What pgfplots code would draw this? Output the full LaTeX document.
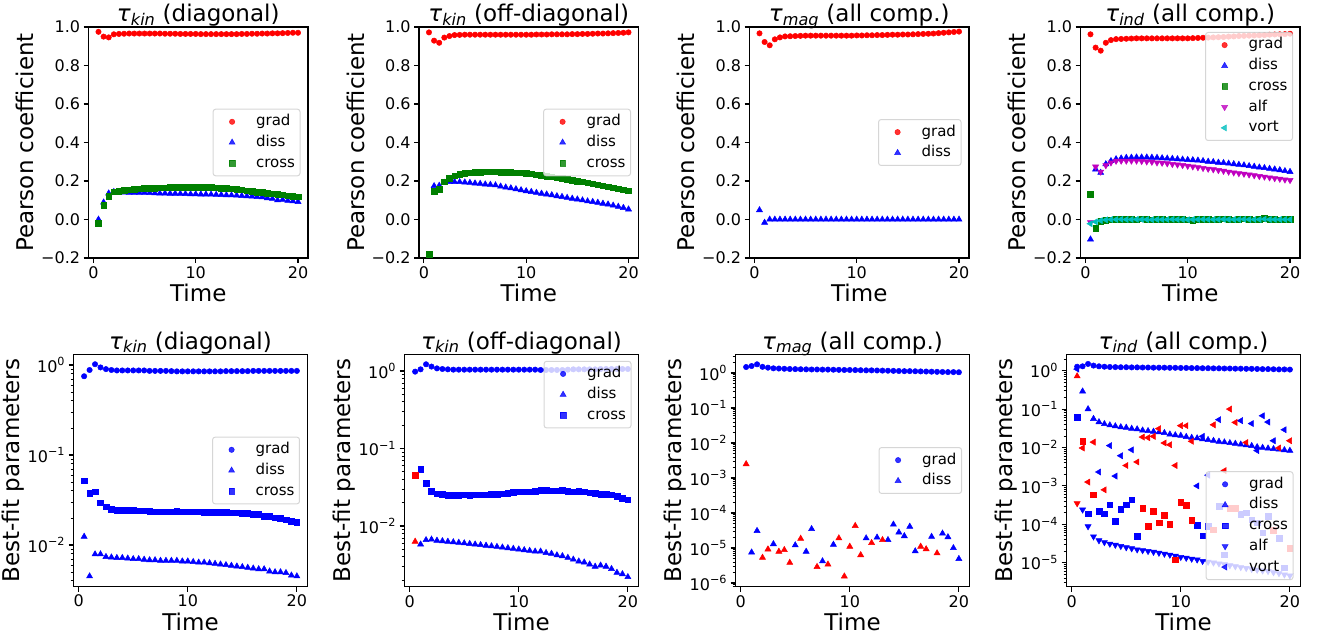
\documentclass[border=0pt]{standalone}
\usepackage{fontspec}
\setmainfont{DejaVu Sans}
\usepackage{pgfplots}
\pgfplotsset{compat=1.18}

\definecolor{mr}{rgb}{1,0,0}
\definecolor{mb}{rgb}{0,0,1}
\definecolor{mg}{rgb}{0,0.5,0}
\definecolor{mm}{rgb}{0.75,0,0.75}
\definecolor{mc}{rgb}{0,0.75,0.75}

\newcommand{\tk}[1]{\textit{τ}\textsubscript{\textit{#1}}}
\newcommand{\ep}[1]{10\textsuperscript{#1}}

% minor ticks for the log axes
\def\mlist{1e-8}
\foreach \e in {-7,...,1}{\foreach \m in {2,...,9}{\xdef\mlist{\mlist,\m e\e}}}

\pgfplotsset{
  panel/.style={
    scale only axis,
    xmin=-0.475, xmax=20.975,
    xtick={0,10,20}, xticklabels={0,10,20},
    tick align=outside, tick pos=left,
    major tick length=4.9pt, minor tick length=2.8pt,
    major tick style={black, line width=1.1pt},
    minor tick style={black, line width=0.8pt},
    axis line style={line width=1.1pt},
    tick label style={font=\fontsize{16}{16}\selectfont},
    label style={font=\fontsize{23}{23}\selectfont},
    title style={font=\fontsize{23}{23}\selectfont,
      at={(axis description cs:0.5,1)}, anchor=base, yshift=-0.8pt},
    xlabel={Time},
    xlabel style={at={(axis description cs:0.5,0)}, anchor=base, yshift=-44pt},
    legend cell align=left,
    legend style={font=\fontsize{15}{15}\selectfont,
      draw=black!20, line width=1pt, rounded corners=2.5pt,
      fill=white, fill opacity=0.8, draw opacity=0.8, text opacity=1,
      inner xsep=4pt, inner ysep=4.5pt, row sep=4.5pt,
      nodes={inner sep=1pt, text height=11pt, text depth=3.2pt},
      /tikz/every odd column/.append style={column sep=8pt}},
  },
  toprow/.style={panel, width=219.5pt, height=231pt,
    ymin=-0.2, ymax=1,
    ytick={-0.2,0,0.2,0.4,0.6,0.8,1},
    yticklabels={−0.2,0.0,0.2,0.4,0.6,0.8,1.0},
    ylabel={Pearson coefficient},
    ylabel style={at={(axis description cs:-0.289,0.5)}, anchor=center}},
  botrow/.style={panel, width=234pt, height=232.4pt,
    minor ytick/.expand once=\mlist,
    ylabel={Best-fit parameters},
    ylabel style={at={(axis description cs:-0.256,0.5)}, anchor=center}},
  mk/.style={only marks, legend image code/.code={%
      \path[draw=none, fill=none] (0pt,-3pt) rectangle (30pt,3pt);
      \draw[mark repeat=2,mark phase=2] plot coordinates {(0pt,0pt)(15pt,0pt)(30pt,0pt)};}},
  grad/.style={mk, mark=*, mark size=2.7pt, mark options={line width=0.5pt}},
  diss/.style={mk, mark=triangle*, mark size=3.5pt, mark options={line width=0.5pt}},
  crs/.style={mk, mark=square*, mark size=2.8pt, mark options={line width=0.5pt}},
  alf/.style={mk, mark=triangle*, mark size=3.5pt, mark options={line width=0.5pt, rotate=180}},
  vort/.style={mk, mark=triangle*, mark size=3.5pt, mark options={line width=0.5pt, rotate=90}},
}

\begin{document}
\begin{tikzpicture}
\path[use as bounding box] (0pt,0pt) rectangle (1323pt,637pt);

% ---------------- top row: Pearson coefficient ----------------
\begin{axis}[toprow, at={(88.5pt,379pt)}, anchor=south west,
  title={\tk{kin} (diagonal)},
  legend style={at={(1,0.5)}, anchor=east, xshift=-7.5pt}]
\addplot[grad, mr] coordinates {(0.5,.975)(1,.950)(1.5,.946)(2,.962)(2.5,.964)(3,.965)(3.5,.966)(4,.966)(4.5,.966)(5,.966)(5.5,.966)(6,.966)(6.5,.966)(7,.965)(7.5,.965)(8,.965)(8.5,.964)(9,.964)(9.5,.964)(10,.964)(10.5,.963)(11,.963)(11.5,.963)(12,.963)(12.5,.963)(13,.963)(13.5,.963)(14,.963)(14.5,.964)(15,.964)(15.5,.965)(16,.965)(16.5,.966)(17,.966)(17.5,.967)(18,.967)(18.5,.968)(19,.969)(19.5,.970)(20,.970)};
\addlegendentry{grad}
\addplot[diss, mb] coordinates {(0.5,0.0)(1,.089)(1.5,.136)(2,.144)(2.5,.141)(3,.141)(3.5,.140)(4,.139)(4.5,.139)(5,.139)(5.5,.138)(6,.137)(6.5,.136)(7,.136)(7.5,.135)(8,.135)(8.5,.134)(9,.133)(9.5,.132)(10,.132)(10.5,.131)(11,.131)(11.5,.130)(12,.129)(12.5,.128)(13,.127)(13.5,.126)(14,.125)(14.5,.123)(15,.122)(15.5,.120)(16,.118)(16.5,.116)(17,.111)(17.5,.108)(18,.100)(18.5,.103)(19,.098)(19.5,.095)(20,.092)};
\addlegendentry{diss}
\addplot[crs, mg] coordinates {(0.5,-.02)(1,.075)(1.5,.122)(2,.144)(2.5,.148)(3,.152)(3.5,.155)(4,.157)(4.5,.159)(5,.161)(5.5,.162)(6,.163)(6.5,.164)(7,.165)(7.5,.166)(8,.167)(8.5,.167)(9,.167)(9.5,.168)(10,.169)(10.5,.168)(11,.167)(11.5,.166)(12,.165)(12.5,.163)(13,.161)(13.5,.159)(14,.157)(14.5,.154)(15,.150)(15.5,.146)(16,.143)(16.5,.140)(17,.136)(17.5,.133)(18,.131)(18.5,.128)(19,.124)(19.5,.121)(20,.118)};
\addlegendentry{cross}
\end{axis}

\begin{axis}[toprow, at={(419pt,379pt)}, anchor=south west,
  title={\tk{kin} (off-diagonal)},
  legend style={at={(1,0.5)}, anchor=east, xshift=-7.5pt}]
\addplot[grad, mr] coordinates {(0.5,.972)(1,.929)(1.5,.918)(2,.945)(2.5,.953)(3,.958)(3.5,.959)(4,.960)(4.5,.960)(5,.960)(5.5,.960)(6,.960)(6.5,.960)(7,.960)(7.5,.960)(8,.960)(8.5,.960)(9,.960)(9.5,.960)(10,.960)(10.5,.960)(11,.961)(11.5,.961)(12,.961)(12.5,.962)(13,.962)(13.5,.962)(14,.962)(14.5,.963)(15,.963)(15.5,.964)(16,.964)(16.5,.965)(17,.966)(17.5,.966)(18,.967)(18.5,.968)(19,.969)(19.5,.970)(20,.972)};
\addlegendentry{grad}
\addplot[diss, mb] coordinates {(0.5,-.205)(1,.174)(1.5,.176)(2,.191)(2.5,.196)(3,.196)(3.5,.195)(4,.193)(4.5,.191)(5,.188)(5.5,.186)(6,.183)(6.5,.181)(7,.178)(7.5,.172)(8,.167)(8.5,.163)(9,.158)(9.5,.153)(10,.148)(10.5,.144)(11,.139)(11.5,.135)(12,.131)(12.5,.127)(13,.122)(13.5,.118)(14,.113)(14.5,.109)(15,.105)(15.5,.100)(16,.095)(16.5,.092)(17,.088)(17.5,.083)(18,.079)(18.5,.073)(19,.067)(19.5,.061)(20,.053)};
\addlegendentry{diss}
\addplot[crs, mg] coordinates {(0.5,-.181)(1,.148)(1.5,.157)(2,.196)(2.5,.214)(3,.228)(3.5,.236)(4,.240)(4.5,.243)(5,.245)(5.5,.246)(6,.247)(6.5,.247)(7,.247)(7.5,.246)(8,.245)(8.5,.244)(9,.243)(9.5,.242)(10,.240)(10.5,.237)(11,.233)(11.5,.230)(12,.226)(12.5,.222)(13,.217)(13.5,.213)(14,.209)(14.5,.205)(15,.200)(15.5,.196)(16,.191)(16.5,.186)(17,.181)(17.5,.176)(18,.170)(18.5,.165)(19,.160)(19.5,.155)(20,.150)};
\addlegendentry{cross}
\end{axis}

\begin{axis}[toprow, at={(749.5pt,379pt)}, anchor=south west,
  title={\tk{mag} (all comp.)},
  legend style={at={(1,0.5)}, anchor=east, xshift=-7.5pt}]
\addplot[grad, mr] coordinates {(0.5,.967)(1,.922)(1.5,.905)(2,.936)(2.5,.946)(3,.951)(3.5,.952)(4,.953)(4.5,.954)(5,.955)(5.5,.955)(6,.955)(6.5,.955)(7,.955)(7.5,.955)(8,.955)(8.5,.955)(9,.955)(9.5,.955)(10,.956)(10.5,.956)(11,.957)(11.5,.957)(12,.958)(12.5,.958)(13,.959)(13.5,.960)(14,.960)(14.5,.961)(15,.961)(15.5,.962)(16,.963)(16.5,.964)(17,.965)(17.5,.966)(18,.968)(18.5,.970)(19,.972)(19.5,.974)(20,.976)};
\addlegendentry{grad}
\addplot[diss, mb] coordinates {(0.5,.049)(1,-.016)(1.5,0)(2,0)(2.5,0)(3,0)(3.5,0)(4,0)(4.5,0)(5,0)(5.5,0)(6,0)(6.5,0)(7,0)(7.5,0)(8,0)(8.5,0)(9,0)(9.5,0)(10,0)(10.5,0)(11,0)(11.5,0)(12,0)(12.5,0)(13,0)(13.5,0)(14,0)(14.5,0)(15,0)(15.5,0)(16,0)(16.5,0)(17,0)(17.5,0)(18,0)(18.5,0)(19,0)(19.5,0)(20,0)};
\addlegendentry{diss}
\end{axis}

\begin{axis}[toprow, at={(1080.5pt,379pt)}, anchor=south west,
  title={\tk{ind} (all comp.)},
  legend style={at={(1,1)}, anchor=north east, xshift=-7pt, yshift=-5pt}]
\addplot[grad, mr] coordinates {(0.5,.962)(1,.893)(1.5,.877)(2,.918)(2.5,.932)(3,.937)(3.5,.938)(4,.939)(4.5,.940)(5,.941)(5.5,.941)(6,.941)(6.5,.941)(7,.941)(7.5,.941)(8,.941)(8.5,.941)(9,.941)(9.5,.941)(10,.941)(10.5,.942)(11,.943)(11.5,.944)(12,.945)(12.5,.946)(13,.947)(13.5,.948)(14,.950)(14.5,.951)(15,.953)(15.5,.954)(16,.955)(16.5,.956)(17,.957)(17.5,.958)(18,.960)(18.5,.961)(19,.962)(19.5,.963)(20,.965)};
\addlegendentry{grad}
\addplot[diss, mb] coordinates {(0.5,-.103)(1,.261)(1.5,.243)(2,.288)(2.5,.304)(3,.314)(3.5,.318)(4,.321)(4.5,.322)(5,.323)(5.5,.323)(6,.323)(6.5,.322)(7,.321)(7.5,.319)(8,.317)(8.5,.316)(9,.314)(9.5,.312)(10,.310)(10.5,.309)(11,.307)(11.5,.304)(12,.301)(12.5,.299)(13,.296)(13.5,.294)(14,.291)(14.5,.288)(15,.285)(15.5,.282)(16,.278)(16.5,.275)(17,.271)(17.5,.268)(18,.264)(18.5,.261)(19,.257)(19.5,.252)(20,.248)};
\addlegendentry{diss}
\addplot[crs, mg] coordinates {(0.5,.132)(1,-.044)(1.5,-.008)(2,-.005)(2.5,-.002)(3,.001)(3.5,0)(4,.001)(4.5,.002)(5,-.001)(5.5,.003)(6,0)(6.5,-.002)(7,.001)(7.5,0)(8,-.002)(8.5,.001)(9,.002)(9.5,0)(10,-.001)(10.5,-.003)(11,.001)(11.5,.002)(12,0)(12.5,-.001)(13,.002)(13.5,.004)(14,0)(14.5,-.002)(15,.001)(15.5,.003)(16,.002)(16.5,-.001)(17,.001)(17.5,.006)(18,.002)(18.5,0)(19,-.001)(19.5,.001)(20,0)};
\addlegendentry{cross}
\addplot[alf, mm] coordinates {(0.5,-.015)(1,.274)(1.5,.248)(2,.281)(2.5,.296)(3,.304)(3.5,.305)(4,.305)(4.5,.305)(5,.305)(5.5,.303)(6,.301)(6.5,.299)(7,.296)(7.5,.294)(8,.291)(8.5,.288)(9,.285)(9.5,.282)(10,.278)(10.5,.275)(11,.271)(11.5,.267)(12,.263)(12.5,.260)(13,.256)(13.5,.252)(14,.248)(14.5,.244)(15,.240)(15.5,.237)(16,.233)(16.5,.229)(17,.225)(17.5,.222)(18,.218)(18.5,.214)(19,.211)(19.5,.207)(20,.204)};
\addlegendentry{alf}
\addplot[vort, mc] coordinates {(0.5,-.022)(1,-.012)(1.5,-.006)(2,-.002)(2.5,0)(3,0)(3.5,.001)(4,0)(4.5,0)(5,.001)(5.5,0)(6,0)(6.5,-.001)(7,0)(7.5,0)(8,0)(8.5,.001)(9,0)(9.5,0)(10,-.001)(10.5,0)(11,0)(11.5,.001)(12,0)(12.5,0)(13,0)(13.5,.001)(14,0)(14.5,0)(15,0)(15.5,.001)(16,0)(16.5,0)(17,0)(17.5,.002)(18,0)(18.5,0)(19,0)(19.5,0)(20,0)};
\addlegendentry{vort}
\end{axis}

% ---------------- bottom row: best-fit parameters ----------------
\begin{semilogyaxis}[botrow, at={(73.5pt,50.3pt)}, anchor=south west,
  title={\tk{kin} (diagonal)},
  ymin=0.003443, ymax=1.315,
  ytick={0.01,0.1,1}, yticklabels={\ep{−2},\ep{−1},\ep{0}},
  legend style={at={(1,0.5)}, anchor=east, xshift=-7.5pt}]
\addplot[grad, mb] coordinates {(0.5,.75)(1,.88)(1.5,1.02)(2,.94)(2.5,.90)(3,.88)(3.5,.87)(4,.87)(4.5,.87)(5,.87)(5.5,.87)(6,.87)(6.5,.86)(7,.86)(7.5,.86)(8,.86)(8.5,.855)(9,.85)(9.5,.85)(10,.85)(10.5,.85)(11,.85)(11.5,.85)(12,.85)(12.5,.85)(13,.85)(13.5,.855)(14,.855)(14.5,.855)(15,.855)(15.5,.855)(16,.86)(16.5,.86)(17,.86)(17.5,.86)(18,.86)(18.5,.86)(19,.86)(19.5,.86)(20,.86)};
\addlegendentry{grad}
\addplot[diss, mb] coordinates {(0.5,.0124)(1,.0045)(1.5,.0079)(2,.0079)(2.5,.0074)(3,.0073)(3.5,.0072)(4,.0072)(4.5,.0071)(5,.0070)(5.5,.0070)(6,.0069)(6.5,.0068)(7,.0068)(7.5,.0067)(8,.0067)(8.5,.0067)(9,.0067)(9.5,.0066)(10,.0066)(10.5,.0065)(11,.0064)(11.5,.0064)(12,.0063)(12.5,.0062)(13,.0061)(13.5,.0060)(14,.0059)(14.5,.0058)(15,.0057)(15.5,.0056)(16,.0055)(16.5,.0054)(17,.0054)(17.5,.0051)(18,.0050)(18.5,.0050)(19,.0049)(19.5,.0046)(20,.0045)};
\addlegendentry{diss}
\addplot[crs, mb] coordinates {(0.5,.052)(1,.0375)(1.5,.039)(2,.0295)(2.5,.0267)(3,.025)(3.5,.0244)(4,.0243)(4.5,.0243)(5,.0242)(5.5,.0241)(6,.0240)(6.5,.0236)(7,.0234)(7.5,.0234)(8,.0234)(8.5,.0234)(9,.0236)(9.5,.0234)(10,.0234)(10.5,.0234)(11,.0234)(11.5,.0233)(12,.0233)(12.5,.0231)(13,.0230)(13.5,.0232)(14,.0228)(14.5,.0228)(15,.0225)(15.5,.0225)(16,.0219)(16.5,.0219)(17,.0210)(17.5,.0208)(18,.0201)(18.5,.0198)(19,.0190)(19.5,.0185)(20,.0179)};
\addlegendentry{cross}
\end{semilogyaxis}

\begin{semilogyaxis}[botrow, at={(404.5pt,50.3pt)}, anchor=south west,
  title={\tk{kin} (off-diagonal)},
  ymin=0.001648, ymax=1.641,
  ytick={0.01,0.1,1}, yticklabels={\ep{−2},\ep{−1},\ep{0}},
  legend style={at={(1,1)}, anchor=north east, xshift=-7pt, yshift=-6.5pt}]
\addplot[grad, mb] coordinates {(0.5,.98)(1,1.05)(1.5,1.22)(2,1.14)(2.5,1.08)(3,1.06)(3.5,1.05)(4,1.04)(4.5,1.04)(5,1.04)(5.5,1.04)(6,1.04)(6.5,1.04)(7,1.04)(7.5,1.04)(8,1.04)(8.5,1.04)(9,1.04)(9.5,1.04)(10,1.04)(10.5,1.04)(11,1.04)(11.5,1.04)(12,1.03)(12.5,1.03)(13,1.03)(13.5,1.03)(14,1.03)(14.5,1.04)(15,1.05)(15.5,1.05)(16,1.05)(16.5,1.05)(17,1.05)(17.5,1.06)(18,1.06)(18.5,1.06)(19,1.06)(19.5,1.06)(20,1.06)};
\addlegendentry{grad}
\addplot[diss, mb] coordinates {(1,.0058)(1.5,.0066)(2,.0067)(2.5,.0065)(3,.0064)(3.5,.0063)(4,.0062)(4.5,.0061)(5,.0060)(5.5,.0059)(6,.0058)(6.5,.0057)(7,.0056)(7.5,.0055)(8,.0054)(8.5,.0053)(9,.0052)(9.5,.0051)(10,.0050)(10.5,.0049)(11,.0048)(11.5,.0047)(12,.0047)(12.5,.0045)(13,.0044)(13.5,.0042)(14,.0041)(14.5,.0039)(15,.0037)(15.5,.0035)(16,.0034)(16.5,.0032)(17,.0030)(17.5,.0031)(18,.0030)(18.5,.0028)(19,.0025)(19.5,.0024)(20,.0022)};
\addlegendentry{diss}
\addplot[crs, mb] coordinates {(1,.054)(1.5,.0355)(2,.028)(2.5,.026)(3,.0255)(3.5,.025)(4,.025)(4.5,.025)(5,.0253)(5.5,.025)(6,.0252)(6.5,.0253)(7,.0254)(7.5,.0255)(8,.0256)(8.5,.026)(9,.0265)(9.5,.0272)(10,.0275)(10.5,.0275)(11,.0277)(11.5,.028)(12,.029)(12.5,.0287)(13,.0285)(13.5,.0285)(14,.0287)(14.5,.0283)(15,.0278)(15.5,.0282)(16,.0278)(16.5,.027)(17,.0265)(17.5,.0258)(18,.0255)(18.5,.0252)(19,.024)(19.5,.0228)(20,.0217)};
\addlegendentry{cross}
\addplot[diss, mr, forget plot] coordinates {(0.5,.0063)};
\addplot[crs, mr, forget plot] coordinates {(0.5,.0455)};
\end{semilogyaxis}

\begin{semilogyaxis}[botrow, at={(735.5pt,50.3pt)}, anchor=south west,
  title={\tk{mag} (all comp.)},
  ymin=7.834e-7, ymax=3.42,
  ytick={1e-6,1e-5,1e-4,1e-3,1e-2,1e-1,1},
  yticklabels={\ep{−6},\ep{−5},\ep{−4},\ep{−3},\ep{−2},\ep{−1},\ep{0}},
  legend style={at={(1,0.5)}, anchor=east, xshift=-7.5pt}]
\addplot[grad, mb] coordinates {(0.5,1.48)(1,1.58)(1.5,1.77)(2,1.5)(2.5,1.42)(3,1.36)(3.5,1.34)(4,1.32)(4.5,1.3)(5,1.29)(5.5,1.28)(6,1.27)(6.5,1.26)(7,1.26)(7.5,1.25)(8,1.25)(8.5,1.24)(9,1.23)(9.5,1.22)(10,1.22)(10.5,1.21)(11,1.2)(11.5,1.19)(12,1.19)(12.5,1.18)(13,1.17)(13.5,1.16)(14,1.15)(14.5,1.14)(15,1.13)(15.5,1.13)(16,1.12)(16.5,1.11)(17,1.10)(17.5,1.09)(18,1.08)(18.5,1.07)(19,1.06)(19.5,1.06)(20,1.05)};
\addlegendentry{grad}
\addplot[diss, mb] coordinates {(1,7.5e-6)(1.5,3.1e-5)(3,1.3e-5)(5,1.2e-5)(6,7.9e-6)(6.5,3.5e-5)(7.5,4.2e-6)(8.5,1.25e-5)(11.5,1.9e-5)(12.5,2.0e-5)(13.5,1.7e-5)(14,4.7e-5)(14.5,2.8e-5)(15,2.2e-5)(15.5,4.1e-5)(16,8.1e-6)(17.5,2.1e-5)(18.5,2.6e-5)(19,2.05e-5)(19.5,1.0e-5)(20,4.9e-6)};
\addlegendentry{diss}
\addplot[diss, mr, forget plot] coordinates {(0.5,2.5e-3)(2,5.3e-6)(2.5,9.2e-6)(3.5,7.9e-6)(4,8.8e-6)(4.5,3.8e-6)(5.5,1.85e-5)(7,2.9e-6)(8,3.4e-6)(9,1.9e-5)(9.5,1.55e-6)(10,1.1e-5)(10.5,4.3e-5)(11,6.3e-6)(12,1.4e-5)(13,1.7e-5)(16.5,1.1e-5)(17,9.3e-6)(18,7.1e-6)};
\end{semilogyaxis}

\begin{semilogyaxis}[botrow, at={(1066.5pt,50.3pt)}, anchor=south west,
  title={\tk{ind} (all comp.)},
  ymin=2.371e-6, ymax=2.673,
  ytick={1e-5,1e-4,1e-3,1e-2,1e-1,1},
  yticklabels={\ep{−5},\ep{−4},\ep{−3},\ep{−2},\ep{−1},\ep{0}},
  legend style={at={(1,0)}, anchor=south east, xshift=-7pt, yshift=6.5pt}]
\addplot[grad, mb] coordinates {(0.5,1.27)(1,1.3)(1.5,1.5)(2,1.36)(2.5,1.3)(3,1.27)(3.5,1.25)(4,1.24)(4.5,1.23)(5,1.23)(5.5,1.22)(6,1.22)(6.5,1.21)(7,1.21)(7.5,1.2)(8,1.2)(8.5,1.2)(9,1.19)(9.5,1.19)(10,1.18)(10.5,1.18)(11,1.17)(11.5,1.17)(12,1.16)(12.5,1.16)(13,1.15)(13.5,1.15)(14,1.14)(14.5,1.14)(15,1.13)(15.5,1.13)(16,1.12)(16.5,1.12)(17,1.11)(17.5,1.1)(18,1.1)(18.5,1.09)(19,1.08)(19.5,1.08)(20,1.07)};
\addlegendentry{grad}
\addplot[diss, mb] coordinates {(1,.29)(1.5,.1)(2,.056)(2.5,.046)(3,.041)(3.5,.038)(4,.036)(4.5,.034)(5,.033)(5.5,.031)(6,.030)(6.5,.028)(7,.027)(7.5,.026)(8,.025)(8.5,.024)(9,.022)(9.5,.021)(10,.0204)(10.5,.019)(11,.018)(11.5,.0175)(12,.0166)(12.5,.0158)(13,.015)(13.5,.0143)(14,.0137)(14.5,.0131)(15,.0126)(15.5,.012)(16,.0115)(16.5,.011)(17,.0103)(17.5,.0099)(18,.0095)(18.5,.0092)(19,.0089)(19.5,.0086)(20,.0083)};
\addlegendentry{diss}
\addplot[crs, mb] coordinates {(0.5,.061)(1.5,1.9e-4)(2.5,2.2e-4)(3,1.9e-4)(3.5,3.2e-4)(4,1.2e-4)(4.5,2.5e-4)(5,3.2e-4)(5.5,4.4e-4)(6,4.8e-5)(11.5,9.3e-5)(12,5.0e-5)(12.5,8.8e-5)(13.5,2.9e-4)(14,1.6e-5)(15.5,1.8e-4)(16,2.0e-4)(16.5,1.3e-4)(17,1.1e-4)(17.5,6e-5)(18,1.6e-4)(19,4.3e-5)(19.5,7.3e-6)};
\addlegendentry{cross}
\addplot[alf, mb] coordinates {(1,2.4e-4)(1.5,8.8e-5)(2,4.8e-5)(2.5,3.8e-5)(3,3.4e-5)(3.5,3.1e-5)(4,2.9e-5)(4.5,2.7e-5)(5,2.5e-5)(5.5,2.35e-5)(6,2.2e-5)(6.5,2.1e-5)(7,2.0e-5)(7.5,1.9e-5)(8,1.8e-5)(8.5,1.7e-5)(9,1.6e-5)(9.5,1.5e-5)(10,1.4e-5)(10.5,1.33e-5)(11,1.26e-5)(11.5,1.2e-5)(12,1.1e-5)(12.5,1.05e-5)(13,1.0e-5)(13.5,9.5e-6)(14,9.0e-6)(14.5,8.5e-6)(15,8.0e-6)(15.5,7.6e-6)(16,7.2e-6)(16.5,6.8e-6)(17,6.5e-6)(17.5,6.2e-6)(18,6.0e-6)(18.5,5.6e-6)(19,5.3e-6)(19.5,4.9e-6)(20,4.6e-6)};
\addlegendentry{alf}
\addplot[vort, mb] coordinates {(0.5,1.1)(2.5,2.3e-3)(3.5,.0112)(4,1.8e-3)(4.5,6.1e-3)(5.5,8.7e-3)(11.5,1.0e-3)(12,.0195)(12.5,1.9e-3)(13.5,.053)(15.5,.05)(16.5,.042)(17,.0083)(17.5,.067)(18,.046)(18.5,.015)(19.5,.029)};
\addlegendentry{vort}
\addplot[diss, mr, forget plot] coordinates {(0.5,.72)};
\addplot[alf, mr, forget plot] coordinates {(0.5,3.5e-4)};
\addplot[crs, mr, forget plot] coordinates {(1,.0145)(2,5.9e-4)(6.5,2.6e-4)(7,8.8e-5)(7.5,2.2e-4)(8,1.1e-4)(8.5,1.7e-4)(9,1.0e-4)(9.5,1.2e-5)(10,3.7e-4)(10.5,3.1e-4)(11,1.26e-4)(13,7.2e-5)(14.5,2.6e-4)(15,2.6e-4)(18.5,7e-5)(20,2.4e-5)};
\addplot[vort, mr, forget plot] coordinates {(1,.0097)(1.5,1.26e-3)(2,.0138)(3,7.9e-4)(5,3.4e-3)(6,4.2e-3)(6.5,.0187)(7,.018)(7.5,.0195)(8,.031)(8.5,.0131)(9,.0118)(9.5,3.4e-3)(10,.037)(10.5,.037)(11,.0145)(13,.039)(14,2.5e-3)(14.5,.1)(15,.045)(16,.0135)(19,.0097)(20,.015)};
\end{semilogyaxis}
\end{tikzpicture}
\end{document}
